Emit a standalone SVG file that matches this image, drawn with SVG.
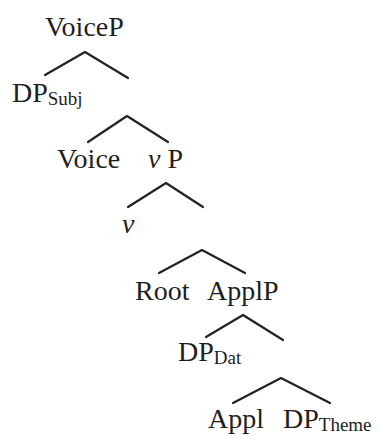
<svg xmlns="http://www.w3.org/2000/svg" width="380" height="436" viewBox="0 0 380 436">
  <style>
    .lbl { font-family: "Liberation Serif", "DejaVu Serif", serif; font-size: 28px; fill: #1e1e1e; }
    .sub { font-size: 19px; }
    .it { font-style: italic; }
    .edge { fill: none; stroke: #222; stroke-width: 2.2; stroke-linecap: round; stroke-linejoin: round; }
  </style>
  <rect width="380" height="436" fill="#ffffff"/>

  <!-- branches -->
  <g id="connectors">
    <polyline class="edge" points="45,75 85,52 128,78"/>
    <polyline class="edge" points="88,142 127,116 168,142"/>
    <polyline class="edge" points="128,207 166,183 203,207"/>
    <polyline class="edge" points="159,273 202,250 245,273"/>
    <polyline class="edge" points="206,337 243,315 283,340"/>
    <polyline class="edge" points="233,403 281,378 330,403"/>
  </g>

  <!-- nodes -->
  <g id="voiceP"><text class="lbl" x="45" y="36">VoiceP</text></g>
  <g id="dpSubj"><text class="lbl" x="12" y="102">DP<tspan class="sub" dy="3">Subj</tspan></text></g>
  <g id="voice"><text class="lbl" x="57" y="168">Voice</text></g>
  <g id="vP"><text class="lbl" x="148" y="168"><tspan class="it">v</tspan> P</text></g>
  <g id="v"><text class="lbl it" x="122" y="233">v</text></g>
  <g id="root"><text class="lbl" x="135" y="300">Root</text></g>
  <g id="applP"><text class="lbl" x="207" y="300">ApplP</text></g>
  <g id="dpDat"><text class="lbl" x="178" y="361">DP<tspan class="sub" dy="3">Dat</tspan></text></g>
  <g id="appl"><text class="lbl" x="208" y="428">Appl</text></g>
  <g id="dpTheme"><text class="lbl" x="283" y="428">DP<tspan class="sub" dy="3">Theme</tspan></text></g>
</svg>
